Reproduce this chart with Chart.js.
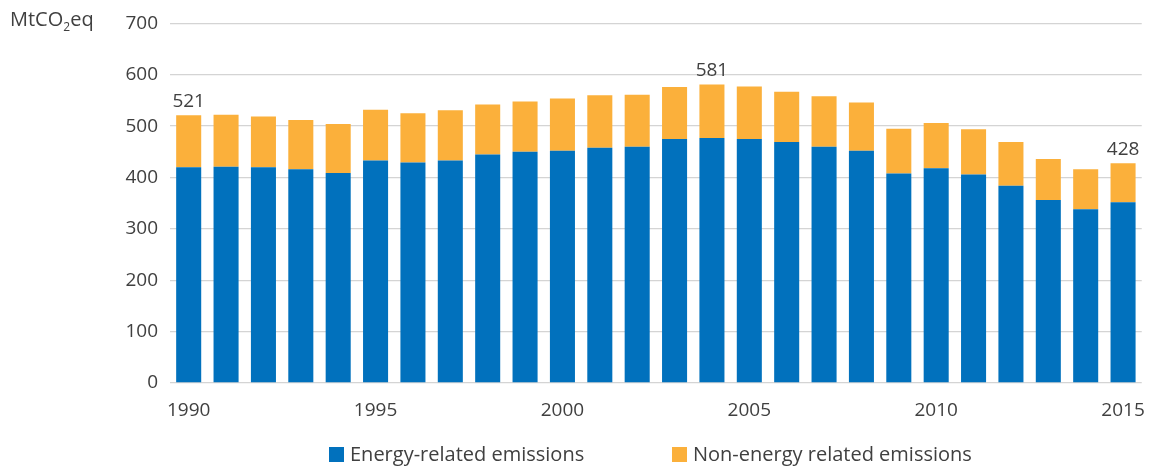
<!DOCTYPE html>
<html>
<head>
<meta charset="utf-8">
<script src="https://cdn.jsdelivr.net/npm/chart.js@4"></script>
<style>
  html, body { margin: 0; padding: 0; background: #fff; }
  body { width: 1161px; height: 468px; position: relative; overflow: hidden; font-family: "Open Sans", sans-serif; color: #404040; }
  #wrap { position: absolute; left: 0; top: 0; width: 1161px; height: 468px; }
  #ytitle { position: absolute; left: 10px; top: 6px; font-size: 20px; color: #404040; line-height: 26px; }
  #ytitle sub { font-size: 12px; vertical-align: -5px; line-height: 0; }
  .leg { position: absolute; top: 441px; font-size: 20px; line-height: 26px; color: #404040; white-space: nowrap; }
  .leg i { position: absolute; left: 0; top: 6px; width: 15px; height: 15px; }
  .leg span { position: absolute; left: 21px; top: 0; }
</style>
</head>
<body>
<div id="wrap"><canvas id="c" width="1161" height="468"></canvas></div>
<div id="ytitle">MtCO<sub>2</sub>eq</div>
<div class="leg" style="left:329px"><i style="background:#0171BD"></i><span id="l1"></span></div>
<div class="leg" style="left:672px"><i style="background:#FBB03B"></i><span id="l2"></span></div>
<script>
const years = ["1990","1991","1992","1993","1994","1995","1996","1997","1998","1999","2000","2001","2002","2003","2004","2005","2006","2007","2008","2009","2010","2011","2012","2013","2014","2015"];
const energyRelated = [420,421,420,416,409,433,429,433,445,450,452,458,460,475,477,475,469,460,452,408,418,406,384,356,338,352];
const nonEnergyRelated = [101,101,99,96,95,99,96,98,97,98,102,102,101,101,104,102,98,98,94,87,88,88,85,80,78,76];
const seriesNames = ["Energy-related emissions","Non-energy related emissions"];
const labelledYears = ["1990","2004","2015"];
const yTicks = [0,100,200,300,400,500,600,700];

document.getElementById('l1').textContent = seriesNames[0];
document.getElementById('l2').textContent = seriesNames[1];

const FONT = '"Open Sans", sans-serif';
const TXT = '#404040';

const totalLabels = {
  id: 'totalLabels',
  afterDatasetsDraw(chart) {
    const ctx = chart.ctx;
    const meta = chart.getDatasetMeta(1);
    ctx.save();
    ctx.font = '19px ' + FONT;
    ctx.fillStyle = TXT;
    ctx.textAlign = 'center';
    ctx.textBaseline = 'bottom';
    labelledYears.forEach(y => {
      const i = years.indexOf(y);
      const el = meta.data[i];
      const total = energyRelated[i] + nonEnergyRelated[i];
      ctx.fillText(String(total), el.x, el.y - 4);
    });
    ctx.restore();
  }
};

new Chart(document.getElementById('c'), {
  type: 'bar',
  data: {
    labels: years,
    datasets: [
      { label: seriesNames[0], data: energyRelated, backgroundColor: '#0171BD', borderWidth: 0 },
      { label: seriesNames[1], data: nonEnergyRelated, backgroundColor: '#FBB03B', borderWidth: 0 }
    ]
  },
  options: {
    responsive: false,
    animation: false,
    devicePixelRatio: 1,
    layout: { padding: { left: 0, right: 11, top: 19, bottom: 0 } },
    plugins: { legend: { display: false }, tooltip: { enabled: false } },
    datasets: { bar: { categoryPercentage: 1, barPercentage: 0.67 } },
    scales: {
      x: {
        stacked: true,
        grid: { display: false, drawTicks: false },
        border: { display: false },
        ticks: {
          autoSkip: false, maxRotation: 0, padding: 16,
          color: TXT, font: { family: FONT, size: 19 },
          callback: function(v, i) { const y = years[i]; return (Number(y) % 5 === 0) ? y : ''; }
        },
        afterFit: s => { s.height = 85; }
      },
      y: {
        stacked: true, min: 0, max: 700,
        afterBuildTicks: s => { s.ticks = yTicks.map(v => ({ value: v })); },
        grid: { color: '#D4D4D4', lineWidth: 1.3, drawTicks: false },
        border: { display: false },
        ticks: { padding: 12, color: TXT, font: { family: FONT, size: 19 } },
        afterFit: s => { s.width = 170; }
      }
    }
  },
  plugins: [totalLabels]
});
</script>
</body>
</html>
